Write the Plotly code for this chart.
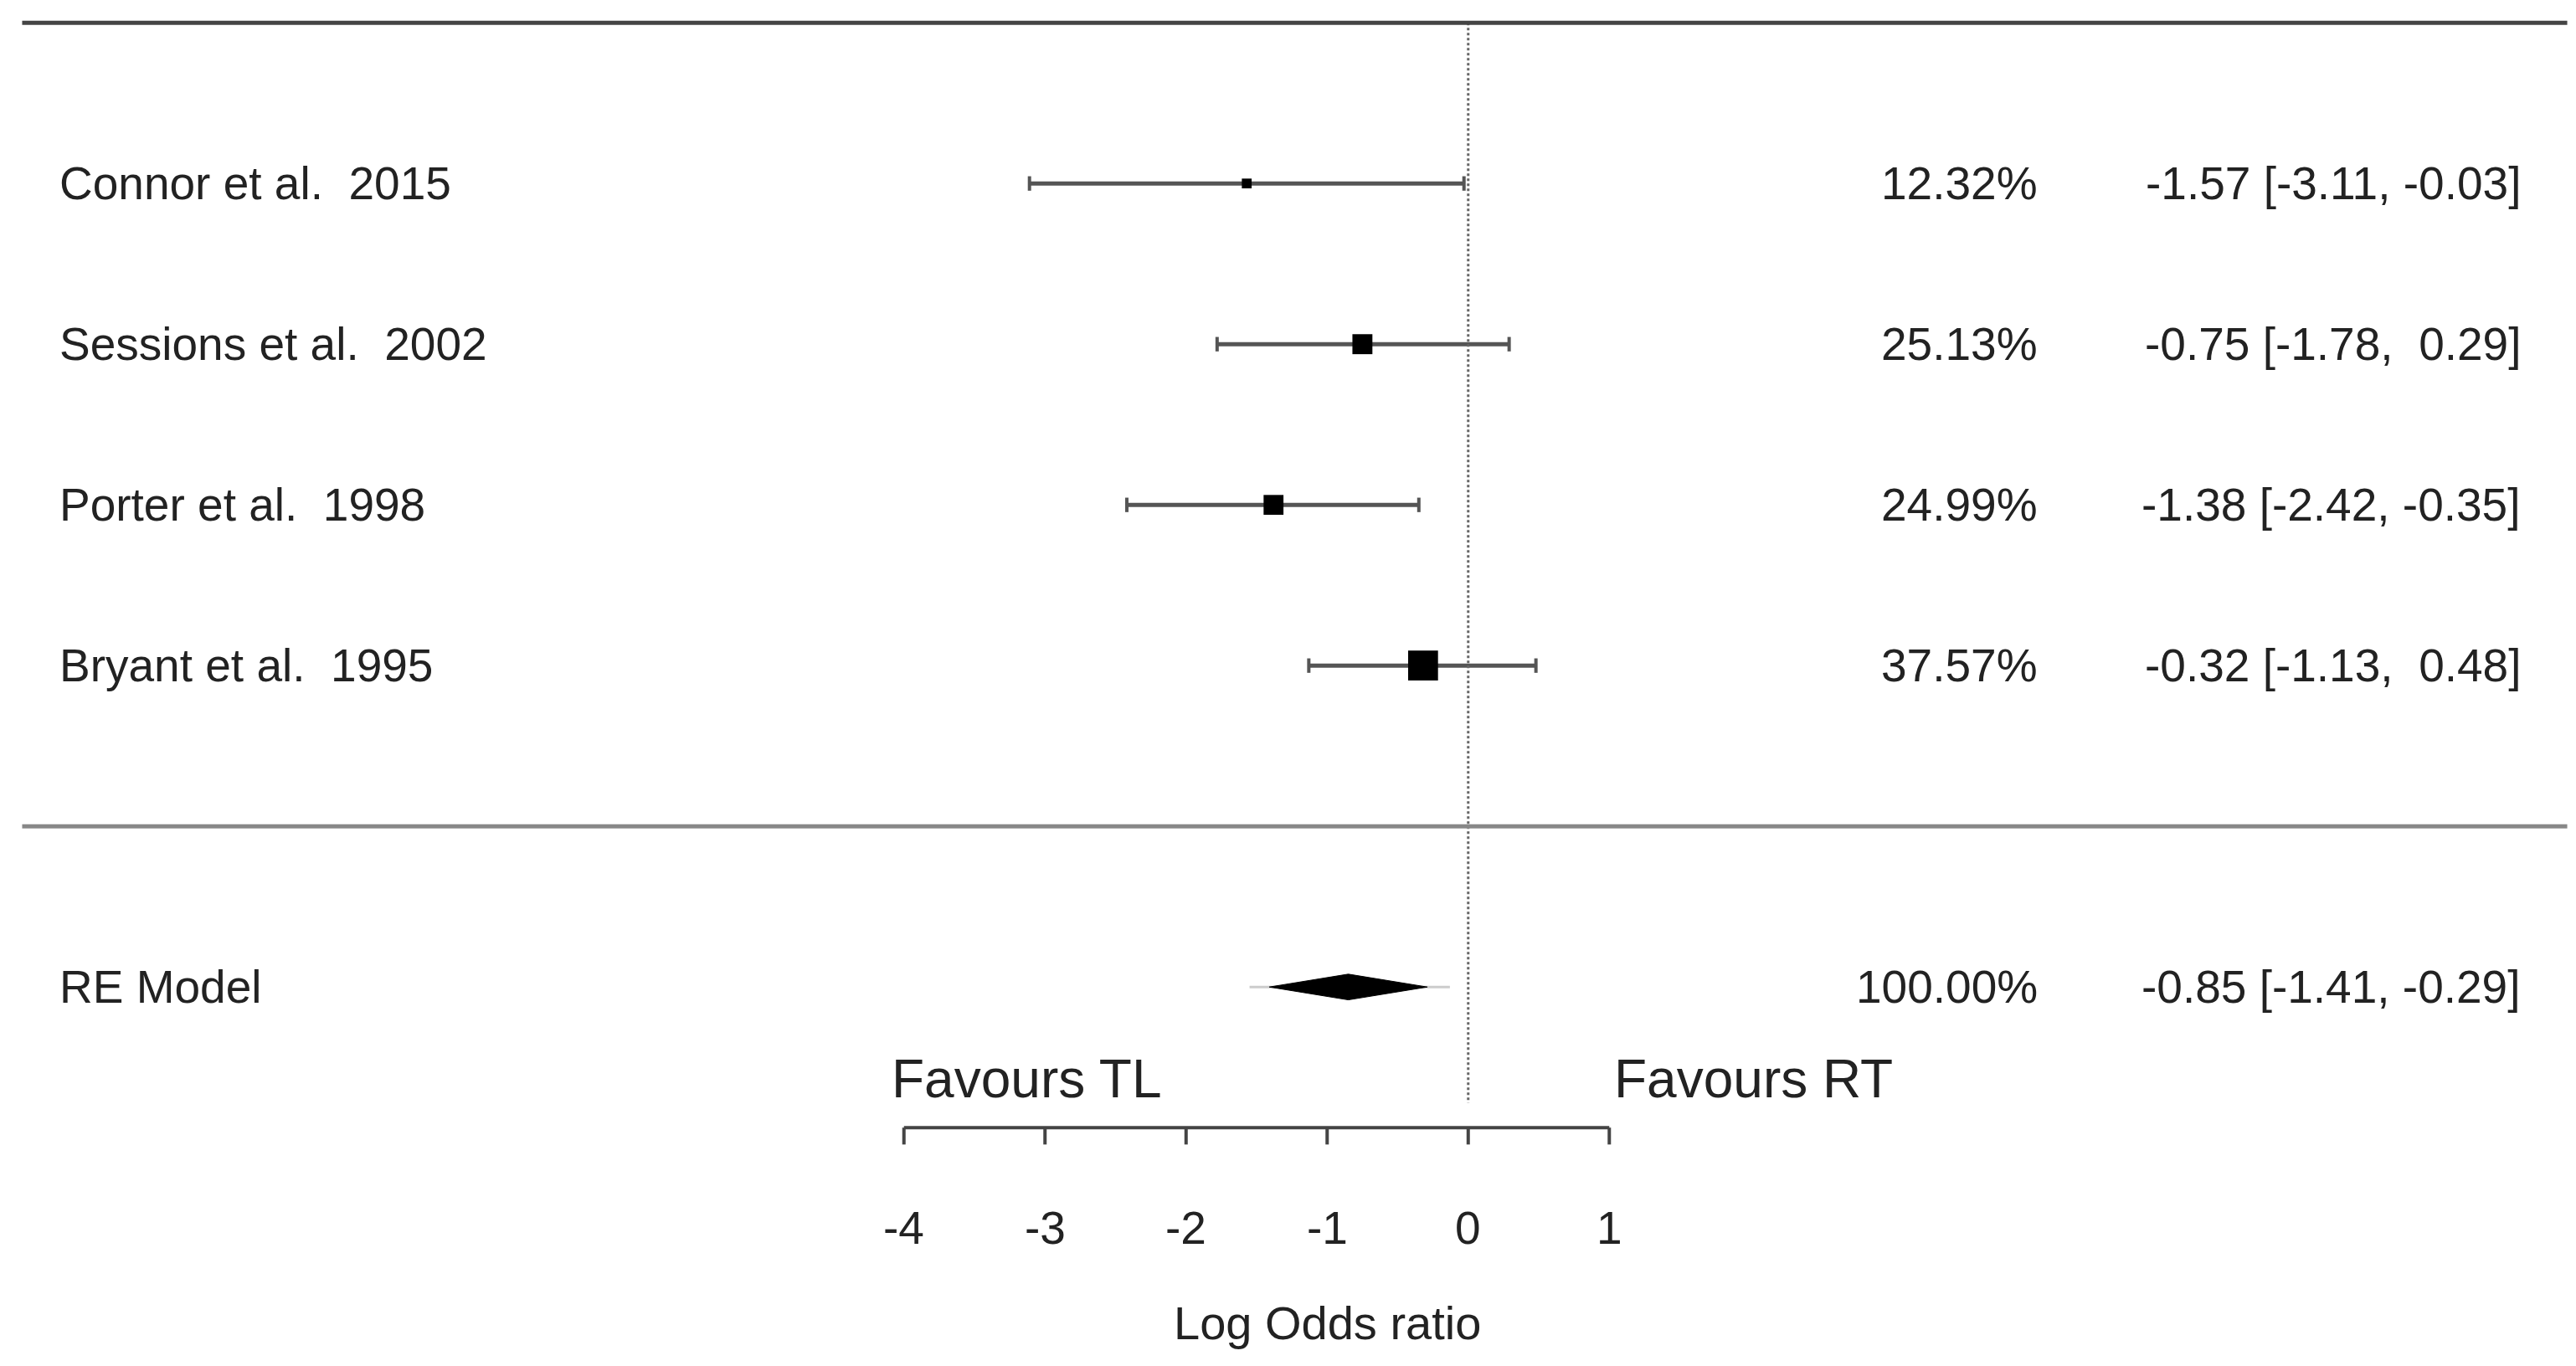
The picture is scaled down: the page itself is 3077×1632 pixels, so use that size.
import plotly.graph_objects as go

studies = ["Connor et al.  2015", "Sessions et al.  2002", "Porter et al.  1998", "Bryant et al.  1995"]
est = [-1.57, -0.75, -1.38, -0.32]
lo = [-3.11, -1.78, -2.42, -1.13]
hi = [-0.03, 0.29, -0.35, 0.48]
weights = [12.32, 25.13, 24.99, 37.57]
rows = [4, 3, 2, 1]
re_est, re_lo, re_hi = -0.85, -1.41, -0.29
re_pi = [-1.55, -0.13]
ticks = [-4, -3, -2, -1, 0, 1]

F = "Liberation Sans, Arial, sans-serif"
FS = 55
fig = go.Figure()
shapes = []
ann = []
for s, e, l, h, w, r in zip(studies, est, lo, hi, weights, rows):
    fig.add_trace(go.Scatter(x=[l, h], y=[r, r], mode="lines", line=dict(color="#555", width=5), showlegend=False))
    for xv in (l, h):
        shapes.append(dict(type="line", x0=xv, x1=xv, y0=r - 0.045, y1=r + 0.045, line=dict(color="#555", width=4)))
    fig.add_trace(go.Scatter(x=[e], y=[r], mode="markers", marker=dict(symbol="square", color="black", size=w * 0.95), showlegend=False))
    ann.append(dict(x=-10.0, y=r, text=s, xanchor="left", showarrow=False, font=dict(size=FS, color="#222", family=F)))
    ann.append(dict(x=4.05, y=r, text=f"{w:.2f}%", xanchor="right", showarrow=False, font=dict(size=FS, color="#222", family=F)))
    ann.append(dict(x=7.47, y=r, text=f"{e:.2f} [{l:.2f}, {h:5.2f}]".replace("  ", "&nbsp; "), xanchor="right", showarrow=False, font=dict(size=FS, color="#222", family=F)))

# RE model
fig.add_trace(go.Scatter(x=re_pi, y=[-1, -1], mode="lines", line=dict(color="#ccc", width=3), showlegend=False))
fig.add_trace(go.Scatter(x=[re_lo, re_est, re_hi, re_est, re_lo], y=[-1, -0.92, -1, -1.08, -1], mode="lines",
                         fill="toself", fillcolor="black", line=dict(color="black", width=1), showlegend=False))
ann.append(dict(x=-10.0, y=-1, text="RE Model", xanchor="left", showarrow=False, font=dict(size=FS, color="#222", family=F)))
ann.append(dict(x=4.05, y=-1, text="100.00%", xanchor="right", showarrow=False, font=dict(size=FS, color="#222", family=F)))
ann.append(dict(x=7.47, y=-1, text=f"{re_est:.2f} [{re_lo:.2f}, {re_hi:.2f}]", xanchor="right", showarrow=False, font=dict(size=FS, color="#222", family=F)))

# axis
shapes.append(dict(type="line", x0=ticks[0], x1=ticks[-1], y0=-1.875, y1=-1.875, line=dict(color="#444", width=4)))
for t in ticks:
    shapes.append(dict(type="line", x0=t, x1=t, y0=-1.875, y1=-1.98, line=dict(color="#444", width=4)))
    ann.append(dict(x=t, y=-2.5, text=str(t), showarrow=False, font=dict(size=FS, color="#222", family=F)))
ann.append(dict(x=-1, y=-3.09, text="Log Odds ratio", showarrow=False, font=dict(size=56, color="#222", family=F)))
ann.append(dict(x=-4.1, y=-1.57, text="Favours TL", xanchor="left", showarrow=False, font=dict(size=64, color="#222", family=F)))
ann.append(dict(x=1.02, y=-1.57, text="Favours RT", xanchor="left", showarrow=False, font=dict(size=64, color="#222", family=F)))

shapes.append(dict(type="line", x0=0, x1=0, y0=5, y1=-1.72, line=dict(color="#666", width=3, dash="dot")))
shapes.append(dict(type="line", xref="paper", x0=0.006, x1=0.994, y0=5, y1=5, line=dict(color="#444", width=5)))
shapes.append(dict(type="line", xref="paper", x0=0.006, x1=0.994, y0=0, y1=0, line=dict(color="#888", width=5)))

fig.update_layout(width=3077, height=1632, margin=dict(l=0, r=0, t=0, b=0),
                  plot_bgcolor="white", paper_bgcolor="white", shapes=shapes, annotations=ann,
                  xaxis=dict(range=[-10.36, 7.90], visible=False),
                  yaxis=dict(range=[-3.40, 5.10], visible=False))
fig.write_html("out.html")
